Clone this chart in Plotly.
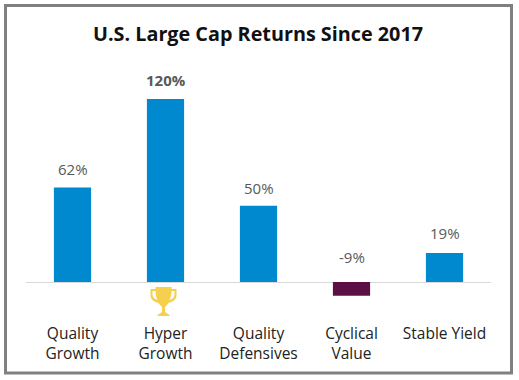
import plotly.graph_objects as go

W, H = 519, 380
categories = ["Quality<br>Growth", "Hyper<br>Growth", "Quality<br>Defensives", "Cyclical<br>Value", "Stable Yield"]
values = [62, 120, 50, -9, 19]
labels = ["62%", "<b>120%</b>", "50%", "-9%", "19%"]
label_shift = [18, 19, 18, 25, 20]
bar_colors = ["#0089CF", "#0089CF", "#0089CF", "#5C0F45", "#0089CF"]
title = "U.S. Large Cap Returns Since 2017"

PX = 1.525
x0, x1, y_top, y_bot = 26, 491, 60, 322
zero = 282

fig = go.Figure(go.Bar(x=categories, y=values, marker=dict(color=bar_colors, line_width=0),
                       width=0.4, hoverinfo="skip"))

for c, v, l, s in zip(categories, values, labels, label_shift):
    fig.add_annotation(x=c, y=max(v, 0), text=l, showarrow=False, yanchor="middle", yshift=s,
                       font=dict(family="Open Sans", size=15, color="#58595B"))

fig.add_annotation(xref="paper", yref="paper", x=258 / W, y=1 - 33 / H, text=f"<b>{title}</b>",
                   showarrow=False, yanchor="middle", xanchor="center",
                   font=dict(family="Open Sans", size=19.8, color="#111111"))

# outer frame
fig.add_shape(type="rect", xref="paper", yref="paper", x0=5.5 / W, x1=511.5 / W,
              y0=1 - 373 / H, y1=1 - 5.5 / H, line=dict(color="#808080", width=3))

# trophy, anchored under the Hyper Growth bar
trophy_cup = ("M -10 -5 L 6 -5 L 6 -7 L 11 -7 L 11 -13 C 11 -18 7 -20 3 -21 C 2 -23 0 -24 -0.5 -25 "
              "L -0.5 -30 L 4 -33 L 4 -34 L -8 -34 L -8 -33 L -3.5 -30 L -3.5 -25 C -4 -24 -6 -23 -7 -21 "
              "C -11 -20 -15 -18 -15 -13 L -15 -7 L -10 -7 Z "
              "M -13 -9 L -10 -9 C -10 -13 -9 -16 -8 -18 C -11 -17 -13 -15 -13 -13 Z "
              "M 9 -9 L 6 -9 C 6 -13 5 -16 4 -18 C 7 -17 9 -15 9 -13 Z")
fig.add_shape(type="path", xref="x", yref="y", xsizemode="pixel", ysizemode="pixel",
              xanchor=categories[1], yanchor=0, path=trophy_cup,
              fillcolor="#F6CF4F", line_width=0, fillrule="evenodd")

fig.update_layout(
    width=W, height=H, autosize=False, margin=dict(l=0, r=0, t=0, b=0),
    paper_bgcolor="white", plot_bgcolor="white", showlegend=False,
    xaxis=dict(domain=[x0 / W, x1 / W], anchor="y", showgrid=False, showline=False, ticks="",
               tickfont=dict(family="Open Sans", size=15.5, color="#222222"), fixedrange=True),
    yaxis=dict(domain=[1 - y_bot / H, 1 - y_top / H], range=[(zero - y_bot) / PX, (zero - y_top) / PX],
               visible=True, showticklabels=False, showgrid=False, showline=False, ticks="",
               zeroline=True, zerolinecolor="#D9D9D9", zerolinewidth=1, fixedrange=True),
)
fig.write_html("out.html", config={"displayModeBar": False},
               post_script="document.body.style.margin='0';")
